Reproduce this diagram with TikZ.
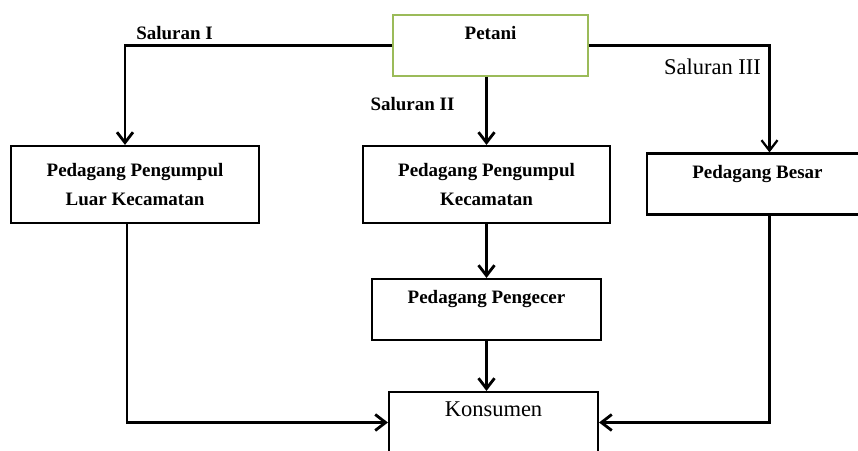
\documentclass[tikz,border=0pt]{standalone}
\usepackage{fontspec}
\setmainfont{Liberation Serif}
\usetikzlibrary{arrows.meta, positioning}
\definecolor{petgreen}{HTML}{9BBB59}

\begin{document}
\begin{tikzpicture}[
    x=0.025cm, y=0.025cm,
    every node/.style={font=\bfseries\fontsize{13.5}{20.5}\selectfont},
    box/.style={draw, line width=1.5pt, align=center, inner sep=0pt},
    onebox/.style={box, text height=0.625cm, text depth=0.9cm},
    twobox/.style={box, minimum height=1.925cm},
    plain/.style={font=\fontsize{16}{19}\selectfont},
    arrow/.style={-{Straight Barb[length=2.6mm, width=4mm]}, line width=2pt}
]
    \useasboundingbox (0,0) rectangle (858,451);

    \node[onebox, draw=petgreen, line width=1pt, minimum width=4.875cm] (petani) at (490.5,405.5) {Petani};
    \node[twobox, minimum width=6.2cm] (luar) at (135,266.5) {Pedagang Pengumpul\\Luar Kecamatan};
    \node[twobox, minimum width=6.175cm] (ppk) at (486.5,266.5) {Pedagang Pengumpul\\Kecamatan};
    \node[onebox, minimum width=5.525cm] (besar) at (757.5,267) {Pedagang Besar};
    \node[onebox, minimum width=5.725cm] (pengecer) at (486.5,141.5) {Pedagang Pengecer};
    \node[onebox, plain, minimum width=5.225cm] (konsumen) at (493.5,28.5) {Konsumen};

    \node (sal1) at (174.5,418) {Saluran I};
    \node (sal2) at (412.5,347) {Saluran II};
    \node[plain] (sal3) at (712.5,384) {Saluran III};

    % saluran I
    \draw[arrow] (petani.west) -| ([xshift=-0.25cm]luar.north);
    \draw[arrow] ([xshift=-0.2cm]luar.south) |- (konsumen.west);
    % saluran II
    \draw[arrow] (petani.south -| ppk.north) -- (ppk.north);
    \draw[arrow] (ppk) -- (pengecer);
    \draw[arrow] (pengecer) -- (pengecer.south |- konsumen.north);
    % saluran III
    \draw[arrow, line width=1.6pt] (petani.east) -| ([xshift=0.3cm]besar.north);
    \draw[arrow] ([xshift=0.3cm]besar.south) |- (konsumen.east);
\end{tikzpicture}
\end{document}
